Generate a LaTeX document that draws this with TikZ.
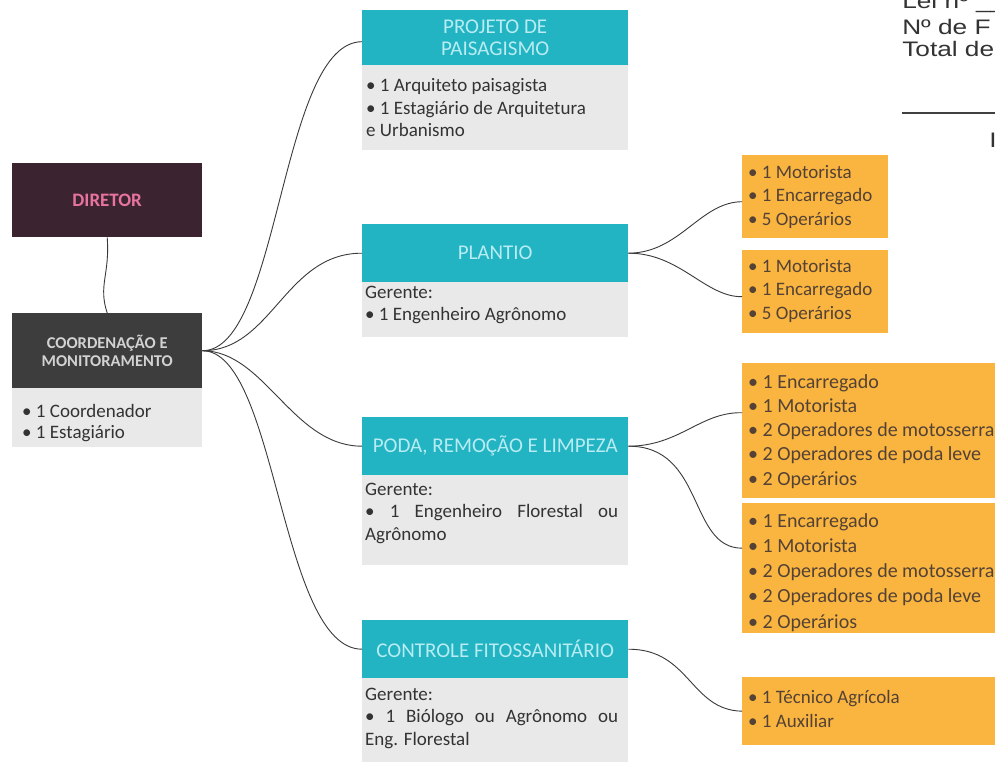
\documentclass[tikz,border=0pt]{standalone}
\usepackage{fontspec}
\setmainfont{Carlito}
\newfontfamily\arialfont{Liberation Sans}
\definecolor{tealc}{HTML}{22B4C3}
\definecolor{hdrtxt}{HTML}{B8ECF2}
\definecolor{bodyg}{HTML}{E9E9E9}
\definecolor{bodytxt}{HTML}{333333}
\definecolor{orng}{HTML}{F9B53F}
\definecolor{orgtxt}{HTML}{544236}
\definecolor{dirc}{HTML}{3C2330}
\definecolor{dirtxt}{HTML}{E6749F}
\definecolor{coordc}{HTML}{3D3D3D}
\definecolor{coordtxt}{HTML}{D2D2D2}
\definecolor{linec}{HTML}{3A3A3A}
\begin{document}
\begin{tikzpicture}[x=1pt,y=-1pt,
  box/.style={inner sep=0pt,anchor=north west,align=center},
  hdr/.style={box,fill=tealc,text=hdrtxt,minimum width=266pt,font=\fontsize{21}{22}\selectfont},
  bodybox/.style={box,fill=bodyg,minimum width=266pt},
  txt/.style={anchor=base west,inner sep=0pt,text=bodytxt,font=\fontsize{19}{22.5}\selectfont},
  orgbox/.style={box,fill=orng},
  otxt/.style={anchor=base west,inner sep=0pt,text=orgtxt},
  link/.style={draw=linec,line width=0.9pt},
  toptxt/.style={anchor=base west,inner sep=0pt,text=black!80,font=\arialfont\fontsize{21}{22}\selectfont,xscale=1.25,transform shape}
]
\useasboundingbox (0,0) rectangle (995,765);
\clip (0,0) rectangle (995,765);
\fill[white] (0,0) rectangle (995,765);

% left column
\node[box,fill=dirc,text=dirtxt,minimum width=190pt,minimum height=74pt,font=\bfseries\fontsize{19}{20}\selectfont] (dir) at (12,163) {DIRETOR};
\node[box,fill=coordc,text=coordtxt,minimum width=190pt,minimum height=75pt,font=\bfseries\fontsize{16.5}{18}\selectfont] (coord) at (12,313) {COORDENAÇÃO E\\MONITORAMENTO};
\node[box,fill=bodyg,minimum width=190pt,minimum height=59pt] (coordb) at (12,388) {};
\node[txt,font=\fontsize{19}{21}\selectfont] (coordt) at (22,417) {\parbox[t]{180pt}{• 1 Coordenador\\• 1 Estagiário}};

% middle column
\node[hdr,minimum height=55pt] (h1) at (362,10) {PROJETO DE\\PAISAGISMO};
\node[bodybox,minimum height=85pt] (b1) at (362,65) {};
\node[txt] (t1) at (366,92) {\parbox[t]{260pt}{• 1 Arquiteto paisagista\\• 1 Estagiário de Arquitetura\\e Urbanismo}};

\node[hdr,minimum height=58pt] (h2) at (362,224) {PLANTIO};
\node[bodybox,minimum height=55pt] (b2) at (362,282) {};
\node[txt] (t2) at (365,298) {\parbox[t]{260pt}{Gerente:\\• 1 Engenheiro Agrônomo}};

\node[hdr,minimum height=58pt] (h3) at (362,417) {PODA, REMOÇÃO E LIMPEZA};
\node[bodybox,minimum height=90pt] (b3) at (362,475) {};
\node[txt] (t3) at (365,495) {\parbox[t]{260pt}{Gerente:\\\makebox[253pt][s]{• 1 Engenheiro Florestal ou}\\Agrônomo}};

\node[hdr,minimum height=58pt] (h4) at (362,620) {CONTROLE FITOSSANITÁRIO};
\node[bodybox,minimum height=84pt] (b4) at (362,678) {};
\node[txt] (t4) at (365,700) {\parbox[t]{260pt}{Gerente:\\\makebox[253pt][s]{• 1 Biólogo ou Agrônomo ou}\\Eng. Florestal}};

% right column
\node[orgbox,minimum width=146pt,minimum height=83pt] (p1) at (742,155) {};
\node[otxt,font=\fontsize{19}{23.5}\selectfont] (p1t) at (748,178) {\parbox[t]{140pt}{• 1 Motorista\\• 1 Encarregado\\• 5 Operários}};
\node[orgbox,minimum width=146pt,minimum height=83pt] (p2) at (742,250) {};
\node[otxt,font=\fontsize{19}{23.5}\selectfont] (p2t) at (748,272) {\parbox[t]{140pt}{• 1 Motorista\\• 1 Encarregado\\• 5 Operários}};

\node[orgbox,minimum width=270pt,minimum height=135pt] (r1) at (742,363) {};
\node[otxt,font=\fontsize{20}{24.25}\selectfont] (r1t) at (748,388) {\parbox[t]{260pt}{• 1 Encarregado\\• 1 Motorista\\• 2 Operadores de motosserra\\• 2 Operadores de poda leve\\• 2 Operários}};
\node[orgbox,minimum width=270pt,minimum height=130pt] (r2) at (742,503) {};
\node[otxt,font=\fontsize{20}{25.25}\selectfont] (r2t) at (748,527) {\parbox[t]{260pt}{• 1 Encarregado\\• 1 Motorista\\• 2 Operadores de motosserra\\• 2 Operadores de poda leve\\• 2 Operários}};

\node[orgbox,minimum width=270pt,minimum height=68pt] (c1) at (742,677) {};
\node[otxt,font=\fontsize{19}{24}\selectfont] (c1t) at (748,703) {\parbox[t]{240pt}{• 1 Técnico Agrícola\\• 1 Auxiliar}};

% connectors
\draw[link] (dir.south) .. controls (110,275) and (98,285) .. (coord.north);
\draw[link] (coord.east) .. controls (280,351) and (280,42) .. ([yshift=-4pt]h1.west);
\draw[link] (coord.east) .. controls (272,351) and (285,253) .. (h2.west);
\draw[link] (coord.east) .. controls (265,351) and (292,446) .. (h3.west);
\draw[link] (coord.east) .. controls (277,351) and (280,649) .. (h4.west);

\draw[link] (h2.east) .. controls (680,253) and (700,202) .. ([yshift=-5pt]p1.west);
\draw[link] (h2.east) .. controls (680,253) and (705,297) .. ([yshift=-5pt]p2.west);
\draw[link] (h3.east) .. controls (680,446) and (700,412) .. ([yshift=18pt]r1.west);
\draw[link] (h3.east) .. controls (705,446) and (688,548) .. ([yshift=20pt]r2.west);
\draw[link] (h4.east) .. controls (690,649) and (690,710) .. (c1.west);

% top-right fragment of the page
\node[toptxt] (lei) at (902,9) {Lei nº \_\_};
\node[toptxt] (nfunc) at (902,35) {Nº de F};
\node[toptxt] (total) at (902,57) {Total de};
\coordinate (rulea) at (902,113);
\coordinate (ruleb) at (1000,113);
\draw[line width=1.6pt,black!75] (rulea) -- (ruleb);
\node[toptxt] (frag) at (989,147) {I};
\end{tikzpicture}
\end{document}
